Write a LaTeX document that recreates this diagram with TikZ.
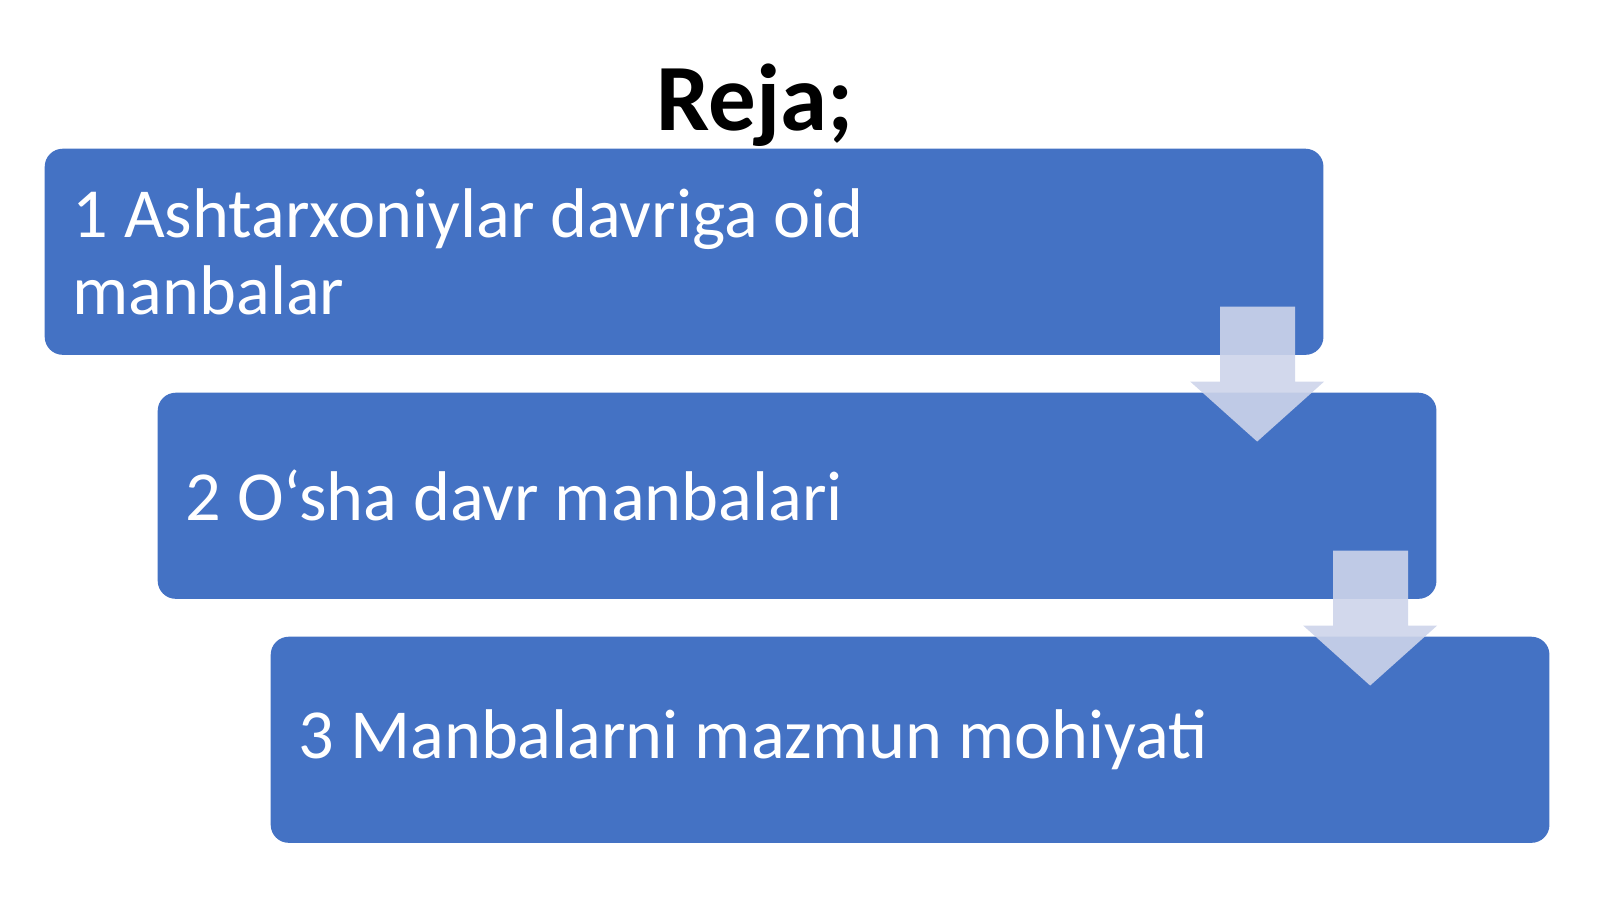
\documentclass[tikz,border=0pt]{standalone}
\usepackage{fontspec}
\setmainfont{Carlito}
\usetikzlibrary{positioning}
\definecolor{boxblue}{HTML}{4472C4}
\definecolor{arrowlav}{HTML}{CDD4EA}
\tikzset{
    stepbox/.style={fill=boxblue, rounded corners=0.18cm, anchor=north west,
        minimum width=12.78cm, minimum height=2.06cm, text width=12.22cm,
        inner xsep=0.28cm, inner ysep=0pt, align=flush left, text=white,
        font=\fontsize{20}{22}\selectfont},
    downarrow/.style={fill=arrowlav, fill opacity=0.9, draw=none}
}
\begin{document}
\begin{tikzpicture}[x=0.01cm, y=-0.01cm]
    \useasboundingbox (0, 0) rectangle (1600, 899);
    \node[anchor=base, font=\fontsize{27}{30}\selectfont\bfseries] (title) at (755, 130) {Reja;};
    \node[stepbox] (b1) at (44, 148) {1 Ashtarxoniylar davriga oid\\manbalar};
    \node[stepbox] (b2) at (157, 392) {2 O‘sha davr manbalari};
    \node[stepbox] (b3) at (270, 636) {3 Manbalarni mazmun mohiyati};
    \foreach \a in {b1, b2} {
        \fill[downarrow] ([shift={(-104, -49)}]\a.south east) -- ([shift={(-29, -49)}]\a.south east)
            -- ([shift={(-29, 26)}]\a.south east) -- ([shift={(0, 26)}]\a.south east)
            -- ([shift={(-67, 86)}]\a.south east) -- ([shift={(-134, 26)}]\a.south east)
            -- ([shift={(-104, 26)}]\a.south east) -- cycle;
    }
\end{tikzpicture}
\end{document}
